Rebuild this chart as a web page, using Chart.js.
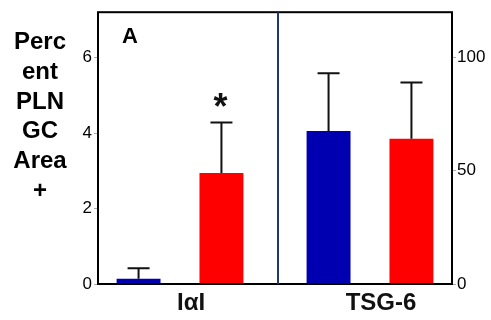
<!DOCTYPE html>
<html>
<head>
<meta charset="utf-8">
<script src="https://cdn.jsdelivr.net/npm/chart.js@4/dist/chart.umd.min.js"></script>
<style>
html,body{margin:0;padding:0;background:#fff;}
#wrap{width:491px;height:320px;}
</style>
</head>
<body>
<div id="wrap"><canvas id="c" width="491" height="320"></canvas></div>
<script>
// ---- data ----
const categories = ['IαI', 'TSG-6'];
const controlMeans = [0.14, 67.5];   // blue
const controlSD    = [0.28, 25.6];
const treatedMeans = [2.94, 64.1];   // red
const treatedSD    = [1.34, 24.9];
const treatedMarks = ['*', ''];
const yTitleLines = ['Perc', 'ent', 'PLN', 'GC', 'Area', '+'];
const panelLabel = 'A';
const leftTicks = [0, 2, 4, 6];
const rightTicks = [0, 50, 100];

const FONT = '"Liberation Sans", Arial, sans-serif';
const BLUE = '#0000b0';
const RED = '#ff0000';

function panelData(values, panel) {
  return categories.map((c, i) => ({ x: i, y: i === panel ? values[i] : null }));
}

const datasets = [
  { label: 'control', data: panelData(controlMeans, 0), sd: controlSD, yAxisID: 'y', backgroundColor: BLUE },
  { label: 'treated', data: panelData(treatedMeans, 0), sd: treatedSD, marks: treatedMarks, yAxisID: 'y', backgroundColor: RED },
  { label: 'control', data: panelData(controlMeans, 1), sd: controlSD, yAxisID: 'y2', backgroundColor: BLUE },
  { label: 'treated', data: panelData(treatedMeans, 1), sd: treatedSD, marks: treatedMarks, yAxisID: 'y2', backgroundColor: RED }
];
datasets.forEach(d => { d.categoryPercentage = 0.8725; d.barPercentage = 0.53; d.skipNull = true; d.borderWidth = 0; });

const decor = {
  id: 'decor',
  afterDatasetsDraw(chart) {
    const ctx = chart.ctx;
    const a = chart.chartArea;
    ctx.save();
    // error bars and marks
    chart.data.datasets.forEach((ds, di) => {
      const meta = chart.getDatasetMeta(di);
      const ys = chart.scales[ds.yAxisID];
      meta.data.forEach((bar, i) => {
        const v = ds.data[i].y;
        if (v === null || v === undefined) return;
        const top = ys.getPixelForValue(v + ds.sd[i]);
        const x = bar.x;
        ctx.strokeStyle = '#111';
        ctx.lineWidth = 2;
        ctx.beginPath();
        ctx.moveTo(x, bar.y);
        ctx.lineTo(x, top);
        ctx.moveTo(x - 11, top);
        ctx.lineTo(x + 11, top);
        ctx.stroke();
        if (ds.marks && ds.marks[i]) {
          ctx.fillStyle = '#111';
          ctx.font = 'bold 36px ' + FONT;
          ctx.textAlign = 'center';
          ctx.textBaseline = 'alphabetic';
          ctx.fillText(ds.marks[i], x - 1, top - 3);
        }
      });
    });
    // frame
    ctx.strokeStyle = '#000';
    ctx.lineWidth = 2;
    ctx.strokeRect(a.left, a.top, a.right - a.left, a.bottom - a.top);
    // panel divider
    const xs = chart.scales.x;
    const dx = Math.round(xs.getPixelForValue(0.516));
    ctx.strokeStyle = '#1f3a70';
    ctx.beginPath();
    ctx.moveTo(dx, a.top);
    ctx.lineTo(dx, a.bottom);
    ctx.stroke();
    // panel label
    ctx.fillStyle = '#000';
    ctx.font = 'bold 22px ' + FONT;
    ctx.textAlign = 'left';
    ctx.textBaseline = 'alphabetic';
    ctx.fillText(panelLabel, a.left + 24, a.top + 31);
    // y title
    ctx.font = 'bold 24px ' + FONT;
    ctx.textAlign = 'center';
    yTitleLines.forEach((t, i) => ctx.fillText(t, 40, 49 + i * 29.8));
    ctx.restore();
  }
};

new Chart(document.getElementById('c'), {
  type: 'bar',
  data: { labels: categories, datasets },
  plugins: [decor],
  options: {
    responsive: false,
    animation: false,
    layout: { padding: { top: 7, left: 0, right: 0, bottom: 0 } },
    plugins: { legend: { display: false }, tooltip: { enabled: false } },
    scales: {
      x: {
        type: 'linear',
        offset: false,
        min: -0.4316,
        max: 1.4316,
        stacked: false,
        afterBuildTicks: s => { s.ticks = categories.map((c, i) => ({ value: i })); },
        afterFit: s => { s.height = 36; },
        grid: { display: false, drawTicks: false },
        border: { display: false },
        ticks: {
          callback: v => categories[v] ?? '',
          font: { family: FONT, size: 24, weight: 'bold' },
          color: '#111',
          padding: 5,
          labelOffset: 11,
          maxRotation: 0
        }
      },
      y: {
        position: 'left',
        min: 0, max: 7.2,
        afterBuildTicks: s => { s.ticks = leftTicks.map(v => ({ value: v })); },
        afterFit: s => { s.width = 98; },
        grid: { drawOnChartArea: false, tickLength: 4, color: '#aaa' },
        border: { display: false },
        ticks: { font: { family: FONT, size: 17 }, color: '#000', padding: 2 }
      },
      y2: {
        position: 'right',
        min: 0, max: 120,
        afterBuildTicks: s => { s.ticks = rightTicks.map(v => ({ value: v })); },
        afterFit: s => { s.width = 39; },
        grid: { drawOnChartArea: false, tickLength: 4, color: '#aaa' },
        border: { display: false },
        ticks: { font: { family: FONT, size: 17 }, color: '#000', padding: 1 }
      }
    }
  }
});
</script>
</body>
</html>
